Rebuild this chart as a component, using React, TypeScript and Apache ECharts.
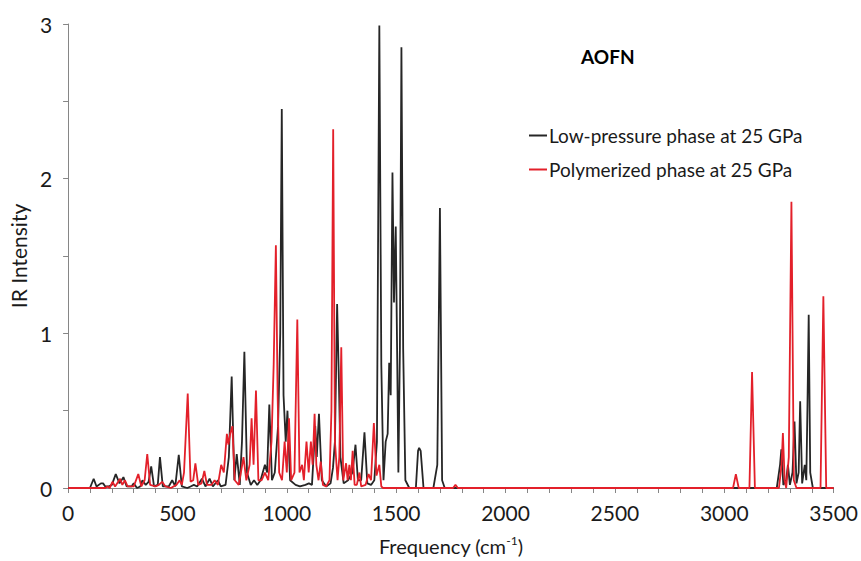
import React, { useEffect, useRef } from "react";
import * as echarts from "echarts";

const seriesNames = ["Low-pressure phase at 25 GPa", "Polymerized phase at 25 GPa"];
const chartTitle = "AOFN";
const xTicks = [0, 500, 1000, 1500, 2000, 2500, 3000, 3500];
const yTicks = [0, 1, 2, 3];

// [frequency cm-1, IR intensity]
const lowPressure: [number, number][] = [
  [0, 0], [100, 0], [117, 0.06], [130, 0.01], [150, 0.03], [160, 0.03], [170, 0.01], [185, 0.01], [200, 0.02],
  [218, 0.09], [235, 0.03], [253, 0.07], [268, 0.01], [290, 0.01], [300, 0.03], [315, 0.0], [330, 0.01],
  [340, 0.05], [355, 0.02], [368, 0.04], [380, 0.14], [393, 0.01], [410, 0.02], [420, 0.2], [433, 0.01],
  [460, 0.01], [476, 0.05], [490, 0.01], [506, 0.215], [520, 0.01], [545, 0.0], [560, 0.01], [575, 0.02],
  [590, 0.01], [612, 0.06], [628, 0.01], [647, 0.06], [662, 0.01], [685, 0.05], [698, 0.01], [720, 0.02],
  [735, 0.2], [748, 0.72], [760, 0.05], [771, 0.22], [785, 0.02], [795, 0.3], [806, 0.88], [818, 0.1],
  [835, 0.02], [850, 0.05], [865, 0.02], [880, 0.05], [900, 0.15], [910, 0.1], [920, 0.54], [932, 0.05],
  [945, 0.1], [960, 0.4], [970, 1.0], [977, 2.45], [985, 0.6], [995, 0.3], [1003, 0.5], [1015, 0.05],
  [1040, 0.02], [1060, 0.01], [1085, 0.02], [1101, 0.03], [1115, 0.02], [1130, 0.4], [1137, 0.2],
  [1147, 0.48], [1160, 0.05], [1180, 0.01], [1200, 0.03], [1211, 0.13], [1220, 0.3], [1230, 1.19],
  [1238, 0.7], [1245, 0.2], [1260, 0.03], [1280, 0.05], [1300, 0.1], [1314, 0.28], [1325, 0.05],
  [1340, 0.05], [1355, 0.36], [1368, 0.03], [1385, 0.02], [1400, 0.05], [1412, 0.3], [1423, 2.99],
  [1432, 0.8], [1442, 0.05], [1452, 0.3], [1461, 0.35], [1468, 0.81], [1475, 0.6], [1483, 2.04],
  [1490, 1.2], [1498, 1.69], [1505, 0.8], [1510, 0.1], [1517, 0.9], [1524, 2.85], [1532, 0.9],
  [1542, 0.05], [1560, 0], [1590, 0], [1600, 0.24], [1605, 0.26], [1612, 0.24], [1625, 0], [1670, 0],
  [1688, 0.15], [1700, 1.81], [1710, 0.05], [1722, 0], [3240, 0], [3255, 0.15], [3261, 0.25],
  [3270, 0.02], [3283, 0.05], [3291, 0.15], [3300, 0.02], [3312, 0.1], [3321, 0.43], [3330, 0.03],
  [3340, 0.1], [3347, 0.56], [3356, 0.03], [3368, 0.15], [3375, 0.05], [3380, 0.5], [3386, 1.12],
  [3393, 0.1], [3405, 0], [3500, 0],
];

const polymerized: [number, number][] = [
  [0, 0], [170, 0], [180, 0.01], [190, 0], [203, 0.04], [215, 0.01], [238, 0.06], [248, 0.02], [260, 0.05],
  [272, 0.01], [300, 0.01], [321, 0.09], [335, 0.01], [350, 0.05], [362, 0.22], [375, 0.02], [400, 0.01],
  [415, 0.02], [430, 0.04], [445, 0.01], [470, 0], [495, 0.02], [510, 0.05], [520, 0.02], [530, 0.1],
  [547, 0.61], [560, 0.04], [572, 0.05], [582, 0.16], [595, 0.02], [610, 0.03], [623, 0.11], [635, 0.02],
  [655, 0.02], [670, 0.05], [685, 0.02], [700, 0.15], [712, 0.1], [726, 0.35], [733, 0.28], [741, 0.35],
  [751, 0.4], [762, 0.05], [780, 0.02], [790, 0.1], [802, 0.2], [815, 0.05], [830, 0.15], [839, 0.45],
  [848, 0.15], [859, 0.63], [870, 0.05], [885, 0.05], [900, 0.1], [915, 0.05], [930, 0.3], [940, 0.8],
  [950, 1.57], [958, 0.6], [965, 0.1], [978, 0.05], [990, 0.3], [1000, 0.1], [1010, 0.45], [1020, 0.05],
  [1035, 0.1], [1048, 1.09], [1058, 0.1], [1070, 0.15], [1078, 0.05], [1090, 0.3], [1100, 0.1],
  [1110, 0.3], [1118, 0.15], [1127, 0.48], [1135, 0.15], [1145, 0.05], [1155, 0.17], [1165, 0.02],
  [1180, 0.01], [1195, 0.05], [1204, 0.5], [1212, 2.32], [1220, 0.3], [1232, 0.05], [1240, 0.2],
  [1249, 0.91], [1258, 0.05], [1271, 0.16], [1278, 0.05], [1286, 0.15], [1293, 0.05], [1301, 0.24],
  [1310, 0.02], [1320, 0.02], [1332, 0.1], [1340, 0.01], [1360, 0.02], [1374, 0.09], [1385, 0.05],
  [1398, 0.42], [1410, 0.08], [1423, 0.15], [1432, 0.01], [1440, 0], [1760, 0], [1771, 0.02], [1782, 0],
  [3040, 0], [3053, 0.09], [3066, 0], [3115, 0], [3127, 0.75], [3140, 0], [3250, 0], [3262, 0.15],
  [3268, 0.355], [3276, 0.05], [3283, 0], [3295, 0.2], [3307, 1.85], [3318, 0.05], [3330, 0], [3440, 0],
  [3453, 1.24], [3466, 0], [3500, 0],
];

const FONT = "Lato, 'Open Sans', sans-serif";
const TXT = "#1a1a1a";
const AX = "#868686";

export default function App() {
  const ref = useRef<HTMLDivElement>(null);
  useEffect(() => {
    if (!ref.current) return;
    const chart = echarts.init(ref.current, null, { renderer: "svg" });
    chart.setOption({
      animation: false,
      backgroundColor: "#ffffff",
      title: {
        text: chartTitle,
        left: 576,
        top: 42,
        textStyle: { fontFamily: FONT, fontWeight: "bold", fontSize: 19, color: "#000" },
      },
      legend: {
        orient: "vertical",
        left: 524,
        top: 121,
        itemGap: 15,
        itemWidth: 18,
        itemHeight: 2,
        icon: "rect",
        textStyle: { fontFamily: FONT, fontSize: 19, color: TXT, padding: [0, 0, 0, -3] },
        data: seriesNames,
      },
      grid: { left: 67, right: 24, top: 24, bottom: 72, containLabel: false },
      xAxis: {
        type: "value",
        min: xTicks[0],
        max: xTicks[xTicks.length - 1],
        interval: 500,
        name: "Frequency (cm{sup|-1})",
        nameLocation: "middle",
        nameGap: 46,
        nameTextStyle: {
          fontFamily: FONT,
          fontSize: 20,
          color: TXT,
          rich: { sup: { fontFamily: FONT, fontSize: 12, verticalAlign: "top", padding: [0, 0, 12, 0], color: TXT } },
        },
        axisLine: { lineStyle: { color: AX, width: 1 } },
        axisTick: { show: true, inside: false, length: 5, lineStyle: { color: AX } },
        minorTick: { show: true, splitNumber: 5, length: 5, lineStyle: { color: AX } },
        axisLabel: { fontFamily: FONT, fontSize: 21, color: TXT, margin: 14, formatter: (v: number) => String(v) },
        splitLine: { show: false },
      },
      yAxis: {
        type: "value",
        min: yTicks[0],
        max: yTicks[yTicks.length - 1],
        interval: 1,
        name: "IR Intensity",
        nameLocation: "middle",
        nameGap: 39,
        nameRotate: 90,
        nameTextStyle: { fontFamily: FONT, fontSize: 21, color: TXT },
        axisLine: { show: true, lineStyle: { color: AX, width: 1 } },
        axisTick: { show: true, inside: false, length: 5, lineStyle: { color: AX } },
        minorTick: { show: true, splitNumber: 2, length: 5, lineStyle: { color: AX } },
        axisLabel: { fontFamily: FONT, fontSize: 21, color: TXT, margin: 16 },
        splitLine: { show: false },
      },
      series: [
        {
          name: seriesNames[0],
          type: "line",
          data: lowPressure,
          symbol: "none",
          lineStyle: { color: "#262626", width: 1.8 },
          itemStyle: { color: "#262626" },
          z: 2,
        },
        {
          name: seriesNames[1],
          type: "line",
          data: polymerized,
          symbol: "none",
          lineStyle: { color: "#e3202a", width: 1.8 },
          itemStyle: { color: "#e3202a" },
          z: 3,
        },
      ],
    });
    return () => chart.dispose();
  }, []);
  return <div ref={ref} style={{ width: 861, height: 561, position: "absolute", left: 0, top: 0 }} />;
}
